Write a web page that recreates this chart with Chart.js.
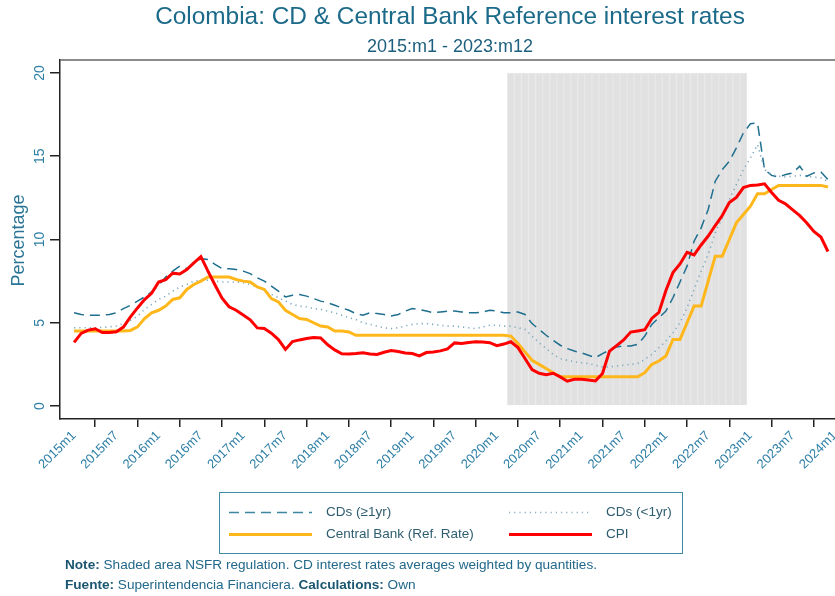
<!DOCTYPE html>
<html>
<head>
<meta charset="utf-8">
<title>Colombia: CD & Central Bank Reference interest rates</title>
<script src="https://cdn.jsdelivr.net/npm/chart.js@4.4.1/dist/chart.umd.min.js"></script>
<style>
  body { margin: 0; background: #fff; font-family: "Liberation Sans", Arial, sans-serif; }
  #wrap { position: relative; width: 835px; height: 596px; overflow: hidden; }
  #chart { position: absolute; left: 0; top: 0; }
  .title { position: absolute; left: 65px; width: 770px; text-align: center; white-space: nowrap; }
  #t1 { top: 2px; font-size: 24.4px; line-height: 28px; color: #1b6a89; }
  #t2 { top: 35px; font-size: 18px; line-height: 22px; color: #1d5f7e; }
  #legend { position: absolute; left: 219px; top: 492px; width: 464px; height: 62px;
            box-sizing: border-box; border: 1.5px solid #3f8aa5; }
  #legsvg { position: absolute; left: 0; top: 0; }
  .lt { position: absolute; font-size: 13.5px; line-height: 16px; color: #2f5d70; white-space: nowrap; }
  .note { position: absolute; left: 65px; font-size: 13.6px; line-height: 16px; color: #22688a; white-space: nowrap; }
  .note b { color: #1b5670; }
</style>
</head>
<body>
<div id="wrap">
  <canvas id="chart" width="835" height="596"></canvas>
  <div class="title" id="t1">Colombia: CD &amp; Central Bank Reference interest rates</div>
  <div class="title" id="t2">2015:m1 - 2023:m12</div>
  <div id="legend"></div>
  <svg id="legsvg" width="835" height="596">
    <line x1="229" y1="512.5" x2="312" y2="512.5" stroke="#3d86a2" stroke-width="1.6" stroke-dasharray="10 6"/>
    <line x1="509" y1="512.5" x2="592" y2="512.5" stroke="#8ab0c2" stroke-width="1.4" stroke-dasharray="1.2 4"/>
    <line x1="229" y1="534.5" x2="312" y2="534.5" stroke="#ffb71b" stroke-width="3"/>
    <line x1="509" y1="534.5" x2="592" y2="534.5" stroke="#ff0000" stroke-width="3"/>
  </svg>
  <div class="lt" style="left:326px; top:504px;">CDs (≥1yr)</div>
  <div class="lt" style="left:606px; top:504px;">CDs (&lt;1yr)</div>
  <div class="lt" style="left:326px; top:526px;">Central Bank (Ref. Rate)</div>
  <div class="lt" style="left:606px; top:526px;">CPI</div>
  <div class="note" style="top:557px;"><b>Note:</b> Shaded area NSFR regulation. CD interest rates averages weighted by quantities.</div>
  <div class="note" style="top:577px;"><b>Fuente:</b> Superintendencia Financiera. <b>Calculations:</b> Own</div>
</div>
<script>
// monthly series, 2015m1 .. 2023m12 (index 0 = 2015m1)
const cdLong = [
  5.60, 5.50, 5.45, 5.45, 5.45, 5.50, 5.60, 5.85, 6.05, 6.30, 6.55, 6.85,
  7.25, 7.75, 8.10, 8.40, 8.25, 8.60, 8.85, 8.80, 8.50, 8.25, 8.25, 8.20,
  8.10, 7.95, 7.70, 7.50, 7.20, 6.90, 6.55, 6.65, 6.70, 6.60, 6.45, 6.30,
  6.20, 6.05, 5.90, 5.75, 5.55, 5.45, 5.60, 5.55, 5.50, 5.40, 5.50, 5.70,
  5.85, 5.80, 5.70, 5.60, 5.65, 5.70, 5.70, 5.65, 5.60, 5.60, 5.65, 5.75,
  5.70, 5.60, 5.60, 5.65, 5.50, 4.95, 4.60, 4.25, 3.95, 3.65, 3.45, 3.30,
  3.20, 3.05, 2.90, 3.15, 3.35, 3.55, 3.60, 3.60, 3.70, 4.20, 4.90, 5.30,
  5.70, 6.50, 7.45, 8.40, 9.90, 10.70, 11.80, 13.50, 14.20, 14.70, 15.50, 16.40,
  16.95, 17.00, 14.20, 13.85, 13.75, 13.90, 14.00, 14.40, 13.80, 14.00, 14.05, 13.60
];
const cdShort = [
  4.70, 4.70, 4.70, 4.70, 4.72, 4.75, 4.80, 4.95, 5.15, 5.40, 5.80, 6.10,
  6.40, 6.60, 6.90, 7.15, 7.30, 7.50, 7.55, 7.55, 7.50, 7.45, 7.45, 7.45,
  7.40, 7.30, 7.15, 6.95, 6.70, 6.50, 6.30, 6.10, 6.00, 5.95, 5.85, 5.80,
  5.70, 5.60, 5.45, 5.30, 5.20, 5.00, 4.90, 4.80, 4.70, 4.65, 4.70, 4.80,
  4.90, 4.95, 4.95, 4.90, 4.85, 4.80, 4.80, 4.75, 4.70, 4.65, 4.75, 4.85,
  4.85, 4.80, 4.80, 4.70, 4.60, 4.20, 3.80, 3.45, 3.10, 2.85, 2.75, 2.65,
  2.60, 2.55, 2.45, 2.35, 2.35, 2.40, 2.45, 2.50, 2.55, 2.80, 3.10, 3.50,
  3.90, 4.40, 5.00, 5.90, 7.00, 8.10, 9.10, 10.40, 11.30, 12.40, 13.30, 14.20,
  14.90, 15.70, 14.20, 13.90, 13.80, 13.75, 13.80, 13.85, 13.80, 13.75, 13.70, 13.50
];
const centralBank = [
  4.50, 4.50, 4.50, 4.50, 4.50, 4.50, 4.50, 4.50, 4.54, 4.75, 5.25, 5.60,
  5.75, 6.00, 6.40, 6.50, 7.00, 7.30, 7.50, 7.75, 7.75, 7.75, 7.75, 7.60,
  7.50, 7.45, 7.15, 7.00, 6.45, 6.25, 5.75, 5.50, 5.25, 5.20, 5.00, 4.80,
  4.75, 4.50, 4.50, 4.45, 4.25, 4.25, 4.25, 4.25, 4.25, 4.25, 4.25, 4.25,
  4.25, 4.25, 4.25, 4.25, 4.25, 4.25, 4.25, 4.25, 4.25, 4.25, 4.25, 4.25,
  4.25, 4.25, 4.20, 3.75, 3.25, 2.75, 2.50, 2.25, 2.00, 1.75, 1.75, 1.75,
  1.75, 1.75, 1.75, 1.75, 1.75, 1.75, 1.75, 1.75, 1.75, 2.00, 2.50, 2.70,
  3.00, 4.00, 4.00, 5.00, 6.00, 6.00, 7.50, 9.00, 9.00, 10.00, 11.00, 11.50,
  12.00, 12.75, 12.75, 13.00, 13.25, 13.25, 13.25, 13.25, 13.25, 13.25, 13.25, 13.15
];
const cpi = [
  3.82, 4.36, 4.56, 4.64, 4.41, 4.42, 4.46, 4.74, 5.35, 5.89, 6.39, 6.77,
  7.45, 7.59, 7.98, 7.93, 8.20, 8.60, 8.97, 8.10, 7.27, 6.48, 5.96, 5.75,
  5.47, 5.18, 4.69, 4.66, 4.37, 3.99, 3.40, 3.87, 3.97, 4.05, 4.12, 4.09,
  3.68, 3.37, 3.14, 3.13, 3.16, 3.20, 3.12, 3.10, 3.23, 3.33, 3.27, 3.18,
  3.15, 3.01, 3.21, 3.25, 3.31, 3.43, 3.79, 3.75, 3.82, 3.86, 3.84, 3.80,
  3.62, 3.72, 3.86, 3.51, 2.85, 2.19, 1.97, 1.88, 1.97, 1.75, 1.49, 1.61,
  1.60, 1.56, 1.51, 1.95, 3.30, 3.63, 3.97, 4.44, 4.51, 4.58, 5.26, 5.62,
  6.94, 8.01, 8.53, 9.23, 9.07, 9.67, 10.21, 10.84, 11.44, 12.22, 12.53, 13.12,
  13.25, 13.28, 13.34, 12.82, 12.36, 12.13, 11.78, 11.43, 10.99, 10.48, 10.15, 9.28
];

// shaded NSFR period: 2020m3 .. 2022m12 (month indexes), drawn up to 20
const nsfrStart = 62;
const nsfrEnd = 95;
const nsfrTop = 20;

const xTickLabels = ['2015m1', '2015m7', '2016m1', '2016m7', '2017m1', '2017m7', '2018m1', '2018m7',
  '2019m1', '2019m7', '2020m1', '2020m7', '2021m1', '2021m7', '2022m1', '2022m7',
  '2023m1', '2023m7', '2024m1'];
const yTicks = [0, 5, 10, 15, 20];

const FONT = '"Liberation Sans", Arial, sans-serif';
const tickColor = '#2e7fa6';

const pts = arr => arr.map((v, i) => ({ x: i, y: v }));
const shade = [];
for (let i = nsfrStart; i <= nsfrEnd; i++) shade.push({ x: i, y: nsfrTop });

// top frame line + rotated y labels and y title
const extras = {
  id: 'extras',
  afterDraw(chart) {
    const { ctx, chartArea, scales } = chart;
    ctx.save();
    ctx.strokeStyle = '#666';
    ctx.lineWidth = 1.5;
    ctx.beginPath();
    ctx.moveTo(chartArea.left, chartArea.top);
    ctx.lineTo(chartArea.right, chartArea.top);
    ctx.stroke();

    const y = scales.y;
    ctx.fillStyle = tickColor;
    ctx.font = '14px ' + FONT;
    ctx.textAlign = 'center';
    ctx.textBaseline = 'middle';
    y.ticks.forEach(t => {
      const py = y.getPixelForValue(t.value);
      ctx.save();
      ctx.translate(40, py);
      ctx.rotate(-Math.PI / 2);
      ctx.fillText(String(t.value), 0, 0);
      ctx.restore();
    });

    ctx.fillStyle = '#2a7596';
    ctx.font = '18px ' + FONT;
    ctx.save();
    ctx.translate(19, (chartArea.top + chartArea.bottom) / 2 + 1);
    ctx.rotate(-Math.PI / 2);
    ctx.fillText('Percentage', 0, 0);
    ctx.restore();
    ctx.restore();
  }
};

new Chart(document.getElementById('chart'), {
  type: 'line',
  data: {
    datasets: [
      {
        type: 'line', label: 'CPI', data: pts(cpi),
        borderColor: '#ff0000', borderWidth: 3, pointRadius: 0, order: 0
      },
      {
        type: 'line', label: 'Central Bank (Ref. Rate)', data: pts(centralBank),
        borderColor: '#ffb71b', borderWidth: 3, pointRadius: 0, order: 1
      },
      {
        type: 'line', label: 'CDs (<1yr)', data: pts(cdShort),
        borderColor: '#7ea8bd', borderWidth: 1.6, borderDash: [1.2, 4], pointRadius: 0, order: 2
      },
      {
        type: 'line', label: 'CDs (≥1yr)', data: pts(cdLong),
        borderColor: '#1f6f8f', borderWidth: 1.5, borderDash: [10, 6], pointRadius: 0, order: 3
      },
      {
        type: 'bar', label: 'NSFR', data: shade,
        backgroundColor: '#e1e1e1', borderColor: '#e8e8e8', borderWidth: 1,
        barPercentage: 1, categoryPercentage: 1, order: 10
      }
    ]
  },
  options: {
    responsive: false,
    animation: false,
    devicePixelRatio: 1,
    layout: { padding: { top: 60, left: 0, right: 0, bottom: 117 } },
    plugins: { legend: { display: false }, tooltip: { enabled: false } },
    scales: {
      x: {
        type: 'linear', min: -2, max: 108, offset: false,
        afterBuildTicks: s => { s.ticks = xTickLabels.map((_, k) => ({ value: k * 6 })); },
        afterFit: s => { s.height = 60; s.paddingLeft = 0; s.paddingRight = 0; },
        ticks: {
          autoSkip: false, minRotation: 45, maxRotation: 45, padding: 1,
          color: tickColor, font: { size: 13, family: FONT },
          callback: v => xTickLabels[Math.round(v / 6)]
        },
        grid: { drawOnChartArea: false, drawTicks: true, tickLength: 8, color: '#222', lineWidth: 1.5 },
        border: { display: true, color: '#222', width: 1.5 }
      },
      y: {
        type: 'linear', min: -0.78, max: 20.78,
        afterBuildTicks: s => { s.ticks = yTicks.map(v => ({ value: v })); },
        afterFit: s => { s.width = 60; },
        ticks: { display: false },
        grid: { drawOnChartArea: false, drawTicks: true, tickLength: 10, color: '#222', lineWidth: 1.5 },
        border: { display: true, color: '#222', width: 1.5 }
      }
    }
  },
  plugins: [extras]
});
</script>
</body>
</html>
